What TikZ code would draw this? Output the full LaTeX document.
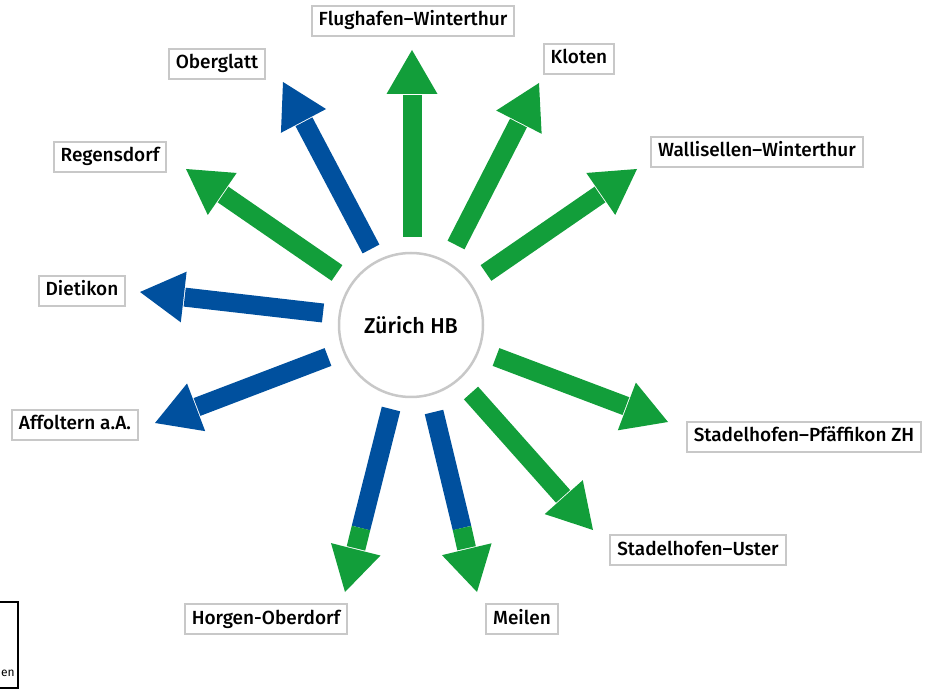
\documentclass[tikz,border=0pt]{standalone}
\usepackage{fontspec}
\setmainfont{Fira Sans}[BoldFont={Fira Sans Medium}]
\usetikzlibrary{calc}
\definecolor{zgreen}{RGB}{18,158,58}
\definecolor{zblue}{RGB}{0,80,158}
\definecolor{zgray}{RGB}{200,200,200}
\tikzset{
  lbl/.style={draw=zgray, line width=2pt, fill=white, font=\fontsize{19}{22}\selectfont\bfseries, inner xsep=7pt, minimum height=30pt, text height=14pt, text depth=4pt},
  hub/.style={circle, draw=zgray, line width=2.5pt, minimum size=144pt, font=\fontsize{21.5}{25}\selectfont\bfseries}
}
\newcommand\ArrHead[3]{% colour, from, tip
  \coordinate (hb) at ($(#3)!44pt!(#2)$);
  \fill[#1] (#3) -- ($(hb)!25.5pt!90:(#3)$) -- ($(hb)!25.5pt!-90:(#3)$) -- cycle;
}
\newcommand\Arr[3]{% colour, start, tip
  \coordinate (hb) at ($(#3)!44pt!(#2)$);
  \draw[#1, line width=19pt] (#2) -- ($(hb)!-1pt!(#3)$);
  \ArrHead{#1}{#2}{#3}
}
\newcommand\ArrTwo[3]{% start, change point, tip : blue then green
  \coordinate (hb) at ($(#3)!44pt!(#1)$);
  \draw[zblue, line width=19pt] (#1) -- (#2);
  \draw[zgreen, line width=19pt] (#2) -- ($(hb)!-1pt!(#3)$);
  \ArrHead{zgreen}{#1}{#3}
}
\begin{document}
\begin{tikzpicture}[x=1pt,y=-1pt]
\useasboundingbox (0,0) rectangle (932,692);
% hub
\node[hub] (hb0) at (411,325) {Zürich HB};
% start and tip coordinates
\coordinate (s1) at (412,237);  \coordinate (t1) at (412,50);
\coordinate (s2) at (456,245);  \coordinate (t2) at (539,83);
\coordinate (s3) at (486,273);  \coordinate (t3) at (637,169);
\coordinate (s4) at (496,357);  \coordinate (t4) at (668,422);
\coordinate (s5) at (471,393);  \coordinate (t5) at (593,530);
\coordinate (s6) at (434,412);  \coordinate (m6) at (462,528); \coordinate (t6) at (477,592);
\coordinate (s7) at (391,409);  \coordinate (m7) at (361,528); \coordinate (t7) at (345,592);
\coordinate (s8) at (328,357);  \coordinate (t8) at (155,423);
\coordinate (s9) at (323,313);  \coordinate (t9) at (140,292);
\coordinate (s10) at (337,273); \coordinate (t10) at (186,169);
\coordinate (s11) at (371,249); \coordinate (t11) at (283,82);
% arrows
\Arr{zgreen}{s1}{t1}
\Arr{zgreen}{s2}{t2}
\Arr{zgreen}{s3}{t3}
\Arr{zgreen}{s4}{t4}
\Arr{zgreen}{s5}{t5}
\ArrTwo{s6}{m6}{t6}
\ArrTwo{s7}{m7}{t7}
\Arr{zblue}{s8}{t8}
\Arr{zblue}{s9}{t9}
\Arr{zgreen}{s10}{t10}
\Arr{zblue}{s11}{t11}
% labels
\node[lbl] (l1) at (413,21) {Flughafen–Winterthur};
\node[lbl] (l2) at (579,59) {Kloten};
\node[lbl] (l3) at (757,152) {Wallisellen–Winterthur};
\node[lbl] (l4) at (804,437) {Stadelhofen–Pfäffikon ZH};
\node[lbl] (l5) at (698,550) {Stadelhofen–Uster};
\node[lbl] (l6) at (522,619) {Meilen};
\node[lbl] (l7) at (266,619) {Horgen-Oberdorf};
\node[lbl] (l8) at (75,425) {Affoltern a.A.};
\node[lbl] (l9) at (82,291) {Dietikon};
\node[lbl] (l10) at (110,157) {Regensdorf};
\node[lbl] (l11) at (217,64) {Oberglatt};
% clipped legend box at lower left
\draw[black, line width=1.5pt] (-10,602) rectangle (18,688);
\node[anchor=base west, inner sep=0pt, font=\fontsize{12}{14}\selectfont] (leg) at (1,676) {en};
\end{tikzpicture}
\end{document}
